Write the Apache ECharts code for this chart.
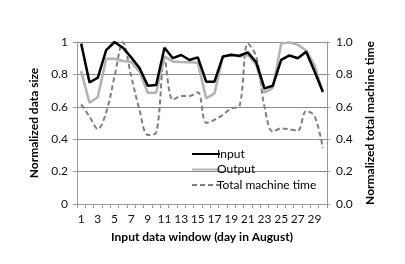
<!DOCTYPE html>
<html><head><meta charset="utf-8">
<script src="https://cdn.jsdelivr.net/npm/echarts@6/dist/echarts.min.js"></script>
<style>html,body{margin:0;padding:0;background:#fff}#c{width:405px;height:264px}</style>
</head><body><div id="c"></div>
<script>
const days = Array.from({length: 30}, (_, i) => String(i + 1));
const inputSize = [0.99,0.75,0.78,0.95,1.0,0.965,0.905,0.84,0.73,0.735,0.965,0.9,0.92,0.889,0.905,0.755,0.755,0.91,0.92,0.915,0.936,0.875,0.714,0.73,0.89,0.917,0.9,0.94,0.82,0.693];
const outputSize = [0.82,0.625,0.66,0.897,0.897,0.883,0.877,0.817,0.687,0.687,0.91,0.88,0.877,0.875,0.872,0.652,0.683,0.91,0.925,0.91,0.92,0.86,0.688,0.717,0.99,0.998,0.982,0.948,0.858,0.688];
const machineTime = [0.615,0.54,0.463,0.565,0.786,0.998,0.79,0.58,0.426,0.44,0.89,0.642,0.667,0.667,0.69,0.5,0.52,0.55,0.59,0.605,0.99,0.91,0.6,0.446,0.467,0.461,0.452,0.574,0.543,0.344];
const leftTicks = [0, 0.2, 0.4, 0.6, 0.8, 1];

const font = 'Lato';
const chart = echarts.init(document.getElementById('c'), null, {renderer: 'canvas'});
chart.setOption({
  animation: false,
  textStyle: {fontFamily: font},
  grid: {left: 77, right: 78, top: 42, bottom: 60},
  legend: {
    orient: 'vertical', left: 186, top: 143, itemWidth: 28, itemHeight: 12, itemGap: 3.5,
    itemStyle: {opacity: 0},
    textStyle: {fontFamily: font, fontSize: 12, color: '#000', padding: [0, 0, 0, -8]},
    data: ['Input', 'Output', 'Total machine time']
  },
  xAxis: {
    type: 'category', data: days, boundaryGap: true,
    name: 'Input data window (day in August)', nameLocation: 'middle', nameGap: 27,
    nameTextStyle: {fontFamily: font, fontWeight: 'bold', fontSize: 12, color: '#000'},
    axisLine: {lineStyle: {color: '#9a9a9a'}},
    axisTick: {show: true, interval: 0, length: 4, lineStyle: {color: '#9a9a9a'}},
    axisLabel: {interval: 1, fontSize: 12, color: '#111', margin: 9}
  },
  yAxis: [{
    type: 'value', min: 0, max: 1, interval: 0.2,
    name: 'Normalized data size', nameLocation: 'middle', nameGap: 31,
    nameTextStyle: {fontFamily: font, fontWeight: 'bold', fontSize: 12, color: '#000'},
    axisLine: {show: true, lineStyle: {color: '#9a9a9a'}},
    axisTick: {show: true, length: 4, lineStyle: {color: '#9a9a9a'}},
    axisLabel: {fontSize: 12, color: '#111', margin: 9, formatter: v => String(+v.toFixed(1))},
    splitLine: {show: true, lineStyle: {color: '#8c8c8c', width: 1}}
  }, {
    type: 'value', min: 0, max: 1, interval: 0.2,
    name: 'Normalized total machine time', nameLocation: 'middle', nameGap: 33,
    nameRotate: 90,
    nameTextStyle: {fontFamily: font, fontWeight: 'bold', fontSize: 12, color: '#000'},
    axisLine: {show: true, lineStyle: {color: '#9a9a9a'}},
    axisTick: {show: true, length: 3, lineStyle: {color: '#9a9a9a'}},
    axisLabel: {fontSize: 12, color: '#111', margin: 9, formatter: v => v.toFixed(1)},
    splitLine: {show: false}
  }],
  series: [{
    name: 'Input', type: 'line', data: inputSize, symbol: 'none',
    lineStyle: {color: '#000', width: 2.5}, itemStyle: {color: '#000'}, z: 4
  }, {
    name: 'Output', type: 'line', data: outputSize, symbol: 'none',
    lineStyle: {color: '#b2b2b2', width: 2.5}, itemStyle: {color: '#b2b2b2'}, z: 3
  }, {
    name: 'Total machine time', type: 'line', yAxisIndex: 1, data: machineTime, symbol: 'none', smooth: 0.35,
    lineStyle: {color: '#7f7f7f', width: 2, type: [5, 3]}, itemStyle: {color: '#7f7f7f'}, z: 2
  }]
});
</script></body></html>
